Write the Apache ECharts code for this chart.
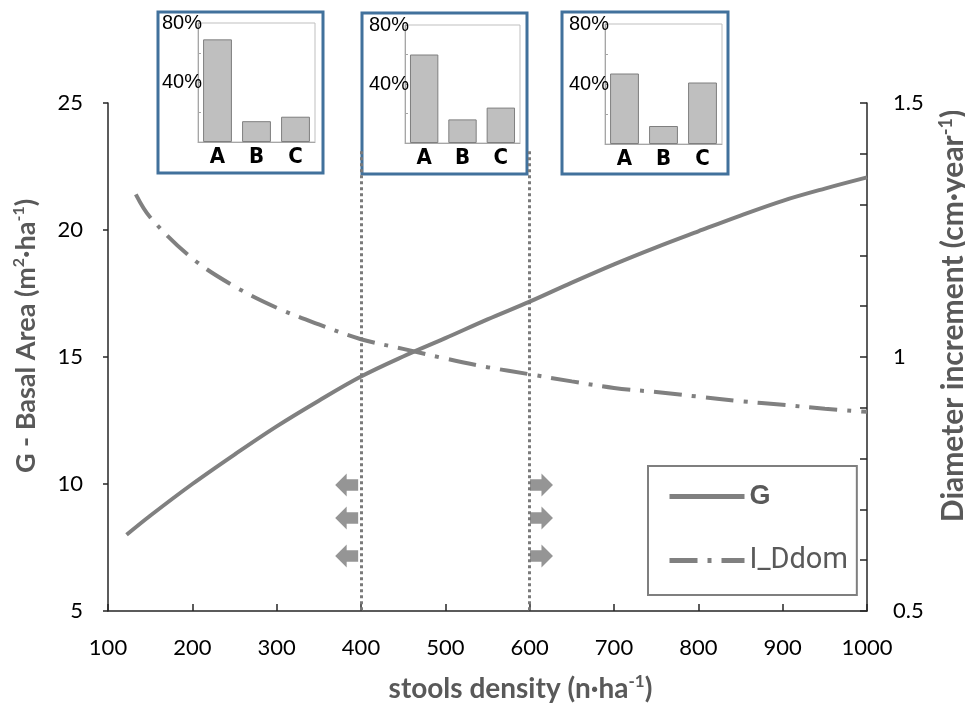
<!DOCTYPE html>
<html><head><meta charset="utf-8">
<script src="https://cdn.jsdelivr.net/npm/echarts@6/dist/echarts.min.js"></script>
<style>html,body{margin:0;padding:0;background:#fff}#c{width:965px;height:706px}</style>
</head><body><div id="c"></div>
<script>
// ---- data ----
const gDensity = [122,150,200,250,300,350,400,450,500,550,600,650,700,750,800,850,900,950,1000];
const gValues  = [8.0,8.75,10.0,11.16,12.27,13.28,14.23,15.02,15.74,16.48,17.18,17.93,18.65,19.32,19.95,20.57,21.15,21.63,22.07];
const iDensity = [133,150,200,250,300,350,400,450,500,550,600,650,700,750,800,850,900,950,1000];
const iValues  = [1.32,1.275,1.194,1.139,1.097,1.064,1.035,1.016,0.997,0.980,0.966,0.952,0.939,0.931,0.922,0.913,0.906,0.898,0.892];
const guideX = [400, 600];
const guideTop = 23.1;
const leftArrowX = 383, rightArrowX = 614;
const arrowY = [9.96, 8.66, 7.17];
const insetCats = ['A','B','C'];
const inset1 = [69, 14, 17];
const inset2 = [60, 16, 24];
const inset3 = [47, 12, 41];
const xTicks = {min:100, max:1000, step:100};
const leftTicks = {min:5, max:25, step:5};
const rightTicks = {min:0.5, max:1.5, step:0.1, labels:[0.5,1,1.5]};

const FONT = "Lato, 'Open Sans', sans-serif";
const NARROW = "'Liberation Sans Narrow', 'DejaVu Sans Condensed', 'Liberation Sans', Arial, sans-serif";
const GREY = '#808080';
const NAMEC = '#595959';
const leftArrowPath = 'path://M0,10 L10,0 L10,5 L20,5 L20,15 L10,15 L10,20 Z';
const rightArrowPath = 'path://M20,10 L10,0 L10,5 L0,5 L0,15 L10,15 L10,20 Z';

const chart = echarts.init(document.getElementById('c'), null, {renderer:'canvas'});

const insetGrids = [
  {left:198, top:23, width:117, height:119},
  {left:405, top:25, width:115, height:118},
  {left:605, top:24, width:117, height:120}
];
const boxes = [
  {x:158, y:12, width:165, height:161},
  {x:362, y:13, width:165, height:161},
  {x:562, y:12, width:166, height:162}
];

function supRich(size) {
  return {
    sup: {fontSize: Math.round(size*0.6), fontWeight:'bold', color: NAMEC, fontFamily: FONT, padding:[0,0,Math.round(size*0.5),0]},
    n: {fontSize: size, fontWeight:'bold', color: NAMEC, fontFamily: FONT}
  };
}

const grids = [{left:108, right:98, top:103, bottom:95, outerBoundsMode:'none', containLabel:false}]
  .concat(insetGrids.map(g => Object.assign({show:true, borderColor:'#BFBFBF', borderWidth:1, z:5, outerBoundsMode:'none', containLabel:false}, g)));

const xAxes = [{
  type:'value', gridIndex:0, min:xTicks.min, max:xTicks.max, interval:xTicks.step,
  axisLine:{lineStyle:{color:'#262626', width:1.5}},
  axisTick:{inside:true, length:7, lineStyle:{color:'#262626', width:1.5}},
  axisLabel:{margin:26, fontSize:22, color:'#000', fontFamily:FONT, formatter: v => String(v)},
  splitLine:{show:false},
  name:'{n|stools density (n·ha}{sup|-1}{n|)}', nameLocation:'middle', nameGap:62,
  nameTextStyle:{rich:supRich(28), padding:[0,0,0,66]}
}];
const yAxes = [{
  type:'value', gridIndex:0, min:leftTicks.min, max:leftTicks.max, interval:leftTicks.step,
  axisLine:{show:true, lineStyle:{color:'#262626', width:1.5}},
  axisTick:{show:true, length:5, lineStyle:{color:'#262626', width:1.5}},
  axisLabel:{margin:25, fontSize:22, color:'#000', fontFamily:FONT},
  splitLine:{show:false},
  name:'{n|G - Basal Area (m}{sup|2}{n|·ha}{sup|-1}{n|)}', nameLocation:'middle', nameGap:67, nameRotate:90,
  nameTextStyle:{rich:supRich(27), padding:[0,0,0,42]}
},{
  type:'value', gridIndex:0, position:'right', min:rightTicks.min, max:rightTicks.max, interval:rightTicks.step,
  axisLine:{show:true, lineStyle:{color:'#262626', width:1.5}},
  axisTick:{show:true, inside:true, length:7, lineStyle:{color:'#262626', width:1.5}},
  axisLabel:{margin:26, fontSize:22, color:'#000', fontFamily:FONT,
    formatter: v => { const m = rightTicks.labels.find(t => Math.abs(v - t) < 1e-6); return m === undefined ? '' : String(m); }},
  splitLine:{show:false},
  name:'{n|Diameter increment (cm·year}{sup|-1}{n|)}', nameLocation:'middle', nameGap:70, nameRotate:90,
  nameTextStyle:{rich:supRich(30), padding:[0,0,0,82]}
}];

insetGrids.forEach((g, k) => {
  xAxes.push({
    type:'category', gridIndex:k+1, data:insetCats,
    axisLine:{lineStyle:{color:'#A6A6A6', width:1}},
    axisTick:{inside:true, length:3, lineStyle:{color:'#A6A6A6'}},
    axisLabel:{margin:4, fontSize:22, fontWeight:'bold', color:'#000', fontFamily:NARROW},
    z:6
  });
  yAxes.push({
    type:'value', gridIndex:k+1, min:0, max:80, interval:20,
    axisLine:{show:true, lineStyle:{color:'#A6A6A6', width:1}},
    axisTick:{show:true, inside:true, length:3, lineStyle:{color:'#A6A6A6'}},
    axisLabel:{margin:-4, fontSize:20, color:'#000', fontFamily:"'Liberation Sans', Arial, sans-serif",
      formatter: v => (v === 40 || v === 80) ? v + '%' : ''},
    splitLine:{show:false},
    z:6
  });
});

const series = [
  {
    name:'G', type:'line', smooth:0.35, symbol:'none', silent:true, z:3,
    xAxisIndex:0, yAxisIndex:0,
    data: gDensity.map((d,i) => [d, gValues[i]]),
    lineStyle:{color:GREY, width:4}, itemStyle:{color:GREY},
    markLine:{
      symbol:['none','none'], silent:true, label:{show:false}, animation:false,
      lineStyle:{color:'#7A7A7A', width:3, type:[3,3]},
      data: guideX.map(x => [{coord:[x, guideTop]}, {coord:[x, leftTicks.min]}])
    }
  },
  {
    name:'I_Ddom', type:'line', smooth:0.35, symbol:'none', silent:true, z:3,
    xAxisIndex:0, yAxisIndex:1,
    data: iDensity.map((d,i) => [d, iValues[i]]),
    lineStyle:{color:GREY, width:4, type:[28,10,4,10]}, itemStyle:{color:GREY}
  },
  {
    name:'leftArrows', type:'scatter', xAxisIndex:0, yAxisIndex:0, silent:true,
    symbol:leftArrowPath, symbolSize:[23,23], itemStyle:{color:'#7A7A7A'},
    data: arrowY.map(y => [leftArrowX, y])
  },
  {
    name:'rightArrows', type:'scatter', xAxisIndex:0, yAxisIndex:0, silent:true,
    symbol:rightArrowPath, symbolSize:[23,23], itemStyle:{color:'#7A7A7A'},
    data: arrowY.map(y => [rightArrowX, y])
  }
];
[inset1, inset2, inset3].forEach((vals, k) => {
  series.push({
    name:'inset' + (k+1), type:'bar', xAxisIndex:k+1, yAxisIndex:k+2, data:vals, barWidth:'74%', silent:true, z:7,
    itemStyle:{color:'#BFBFBF', borderColor:'#7F7F7F', borderWidth:1}
  });
});

chart.setOption({
  animation:false,
  backgroundColor:'#fff',
  grid: grids,
  xAxis: xAxes,
  yAxis: yAxes,
  legend: {
    data:['G','I_Ddom'], orient:'vertical', left:648, top:466,
    padding:[17,9,20,19], itemGap:36, itemWidth:75, itemHeight:14,
    borderColor:'#7F7F7F', borderWidth:2, backgroundColor:'#fff',
    selectedMode:false,
    itemStyle:{opacity:0},
    lineStyle:{width:5},
    formatter: n => n === 'G' ? '{b|G}' : '{r|I_Ddom}',
    textStyle:{rich:{
      b:{fontSize:27, fontWeight:'bold', color:NAMEC, fontFamily:"'Liberation Sans', Arial, sans-serif", lineHeight:30},
      r:{fontSize:29, color:NAMEC, fontFamily:"Roboto, 'Liberation Sans', Arial, sans-serif", lineHeight:30}
    }}
  },
  graphic: boxes.map(b => ({
    type:'rect', shape:b, z:1, silent:true,
    style:{fill:'#fff', stroke:'#41719C', lineWidth:3}
  })),
  series: series
});
</script></body></html>
